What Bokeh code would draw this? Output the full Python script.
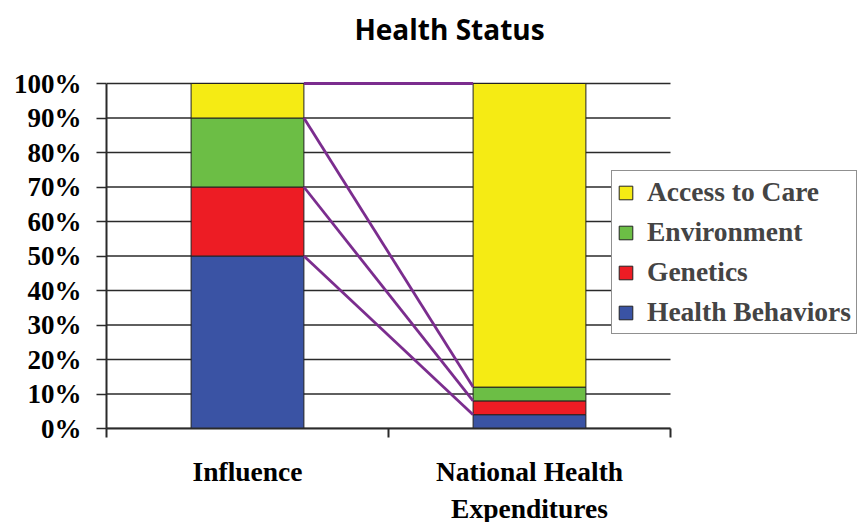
from bokeh.plotting import figure
from bokeh.models import (Range1d, FixedTicker, PrintfTickFormatter, Legend, LegendItem,
                          Label, ColumnDataSource)
from bokeh.embed import file_html
from bokeh.resources import INLINE

# ---- data ----
title_text = "Health Status"
categories = ["Influence", "National Health\nExpenditures"]
series = ["Health Behaviors", "Genetics", "Environment", "Access to Care"]
health_behaviors = [50, 4]
genetics = [20, 4]
environment = [20, 4]
access_to_care = [10, 88]
colors = ["#3A53A4", "#ED1C24", "#6CBE45", "#F5EB14"]
y_ticks = [0, 10, 20, 30, 40, 50, 60, 70, 80, 90, 100]

ncat = len(categories)
xpos = [i + 0.5 for i in range(ncat)]
bar_w = 0.4

src = ColumnDataSource(dict(x=xpos, **{
    "Health Behaviors": health_behaviors,
    "Genetics": genetics,
    "Environment": environment,
    "Access to Care": access_to_care,
}))

# layout (pixels)
FRAME_W, FRAME_H = 753, 428
AXIS_W, AXIS_H = 564, 345  # pixels covered by the category axis / the 0-100% axis
ymax = y_ticks[-1]
p = figure(width=859, height=522, output_backend="svg", toolbar_location=None,
           x_range=Range1d(0, ncat * FRAME_W / AXIS_W),
           y_range=Range1d(0, ymax * FRAME_H / AXIS_H),
           frame_width=FRAME_W, frame_height=FRAME_H,
           min_border_left=106, min_border_right=0, min_border_top=0, min_border_bottom=94)
p.outline_line_color = None
p.background_fill_color = "white"

# horizontal grid lines limited to the category axis extent
p.segment(x0=[0] * len(y_ticks), x1=[ncat] * len(y_ticks), y0=y_ticks, y1=y_ticks,
          line_color="#2a2a2a", line_width=1.5)

rends = p.vbar_stack(series, x="x", width=bar_w, source=src, color=colors,
                     line_color="#222222", line_width=1)

# connector lines between cumulative tops
vals = [health_behaviors, genetics, environment, access_to_care]
cum0, cum1 = [], []
c0 = c1 = 0
for v in vals:
    c0 += v[0]
    c1 += v[1]
    cum0.append(c0)
    cum1.append(c1)
p.segment(x0=[xpos[0] + bar_w / 2] * len(vals), y0=cum0,
          x1=[xpos[1] - bar_w / 2] * len(vals), y1=cum1,
          line_color="#7B2D8E", line_width=2.8)

# y axis
p.yaxis.bounds = (-2.6, ymax)
p.yaxis.ticker = FixedTicker(ticks=y_ticks)
p.yaxis.formatter = PrintfTickFormatter(format="%d%%")
p.yaxis.major_label_text_font = "Liberation Serif"
p.yaxis.major_label_text_font_style = "bold"
p.yaxis.major_label_text_font_size = "27px"
p.yaxis.major_label_text_color = "black"
p.yaxis.major_tick_out = 10
p.yaxis.major_tick_in = 0
p.yaxis.minor_tick_line_color = None
p.yaxis.major_tick_line_color = "#2a2a2a"
p.yaxis.major_tick_line_width = 1.5
p.yaxis.axis_line_color = "#2a2a2a"
p.yaxis.axis_line_width = 2
p.yaxis.major_label_standoff = 15

p.grid.grid_line_color = None

# x axis: labels at category centres, ticks at boundaries
p.xaxis.bounds = (0, ncat)
p.xaxis.ticker = FixedTicker(ticks=xpos, minor_ticks=list(range(ncat + 1)))
p.xaxis.major_label_overrides = {xpos[i]: categories[i] for i in range(ncat)}
p.xaxis.major_tick_line_color = None
p.xaxis.minor_tick_out = 9
p.xaxis.minor_tick_in = 0
p.xaxis.minor_tick_line_color = "#2a2a2a"
p.xaxis.minor_tick_line_width = 2
p.xaxis.axis_line_color = "#2a2a2a"
p.xaxis.axis_line_width = 2
p.xaxis.major_label_text_font = "Liberation Serif"
p.xaxis.major_label_text_font_style = "bold"
p.xaxis.major_label_text_font_size = "27.5px"
p.xaxis.major_label_text_color = "black"
p.xaxis.major_label_standoff = 18

# legend
items = [LegendItem(label=series[i], renderers=[rends[i]]) for i in reversed(range(len(series)))]
leg = Legend(items=items, location=(505, 94))
leg.label_text_font = "Liberation Serif"
leg.label_text_font_style = "bold"
leg.label_text_font_size = "27.5px"
leg.glyph_width = 17
leg.glyph_height = 17
leg.label_height = 20
leg.label_standoff = 13
leg.spacing = 8
leg.padding = 5
leg.margin = 0
leg.border_line_color = "#222222"
leg.border_line_width = 1.5
leg.background_fill_alpha = 1
p.add_layout(leg, "center")

# title drawn inside the (extended) frame
title = Label(x=(449 - 106) * ncat / AXIS_W, y=(FRAME_H - 28) * ymax / AXIS_H, text=title_text,
              text_font="Open Sans", text_font_style="bold", text_font_size="28px",
              text_color="black", text_align="center", text_baseline="middle")
p.add_layout(title)

open("out.html", "w").write(file_html(p, INLINE))
